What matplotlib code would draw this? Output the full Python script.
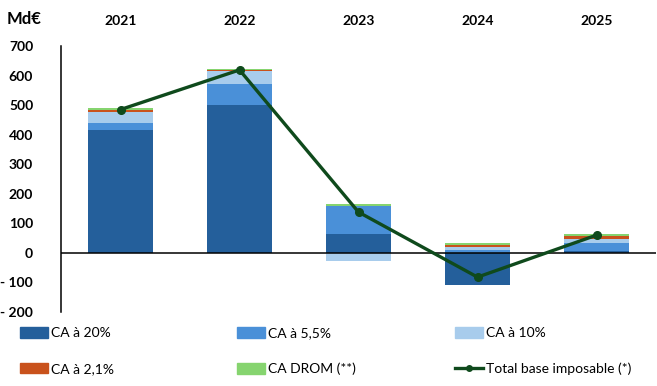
import numpy as np
import matplotlib
matplotlib.use("Agg")
import matplotlib.pyplot as plt
from matplotlib.patches import Patch
from matplotlib.lines import Line2D

plt.rcParams['font.family'] = ['Lato', 'DejaVu Sans']

years = ['2021', '2022', '2023', '2024', '2025']
ca_20 = [416, 500, 64, -110, 8]
ca_5_5 = [24, 71, 93, 10, 26]
ca_10 = [37, 43, -26, 10, 13]
ca_2_1 = [5, 4, 3, 7, 10]
ca_drom = [7, 4, 5, 7, 7]
total_base = [485, 619, 138, -82, 60]

y_ticks = [-200, -100, 0, 100, 200, 300, 400, 500, 600, 700]
y_tick_labels = ['- 200', '- 100', '0', '100', '200', '300', '400', '500', '600', '700']

series = [
    ('CA à 20%', ca_20, '#245F9B'),
    ('CA à 5,5%', ca_5_5, '#4A90D8'),
    ('CA à 10%', ca_10, '#A8CCEC'),
    ('CA à 2,1%', ca_2_1, '#C9521C'),
    ('CA DROM (**)', ca_drom, '#86D46F'),
]
line_color = '#0F4A1C'

fig = plt.figure(figsize=(6.57, 3.86), dpi=100)
ax = fig.add_axes([61 / 657, 1 - 312 / 386, 595 / 657, 266 / 386])

x = np.arange(len(years))
pos_bottom = np.zeros(len(years))
neg_bottom = np.zeros(len(years))
for label, vals, color in series:
    vals = np.array(vals, dtype=float)
    bottom = np.where(vals >= 0, pos_bottom, neg_bottom)
    ax.bar(x, vals, width=0.54, bottom=bottom, color=color, label=label, zorder=2)
    pos_bottom += np.where(vals >= 0, vals, 0)
    neg_bottom += np.where(vals < 0, vals, 0)

ax.plot(x, total_base, color=line_color, lw=2.4, marker='o', ms=5.5, zorder=4)
ax.axhline(0, color='black', lw=1.1, zorder=3)

ax.set_xlim(-0.5, 4.5)
ax.set_ylim(-200, 700)
ax.set_yticks(y_ticks)
ax.set_yticklabels(y_tick_labels, fontsize=10, fontweight='bold')
ax.tick_params(axis='y', length=0, pad=20)

ax.xaxis.tick_top()
ax.set_xticks(x)
ax.set_xticklabels(years, fontsize=10, fontweight='bold')
ax.tick_params(axis='x', length=0, pad=14)

for side in ['top', 'right', 'bottom']:
    ax.spines[side].set_visible(False)
ax.spines['left'].set_linewidth(1.1)

fig.text(7 / 657, 1 - 19 / 386, 'Md€', fontsize=12, fontweight='bold', va='center', ha='left')

# legend: three columns, each built separately to control spacing
handles = [Patch(color=c) for _, _, c in series]
handles.append(Line2D([], [], color=line_color, lw=2.4, marker='o', ms=4))
labels = [s[0] for s in series] + ['Total base imposable (*)']
columns = [(0, 3), (1, 4), (2, 5)]
col_x = [20 / 657, 237 / 657, 455 / 657]
for (i, j), cx in zip(columns, col_x):
    leg = fig.legend([handles[i], handles[j]], [labels[i], labels[j]],
                     loc='upper left', bbox_to_anchor=(cx, 1 - 327 / 386),
                     frameon=False, fontsize=10, handlelength=2.0,
                     handleheight=0.8, handletextpad=0.2, labelspacing=1.7,
                     borderpad=0, borderaxespad=0)

fig.savefig('out.png', dpi=100)
